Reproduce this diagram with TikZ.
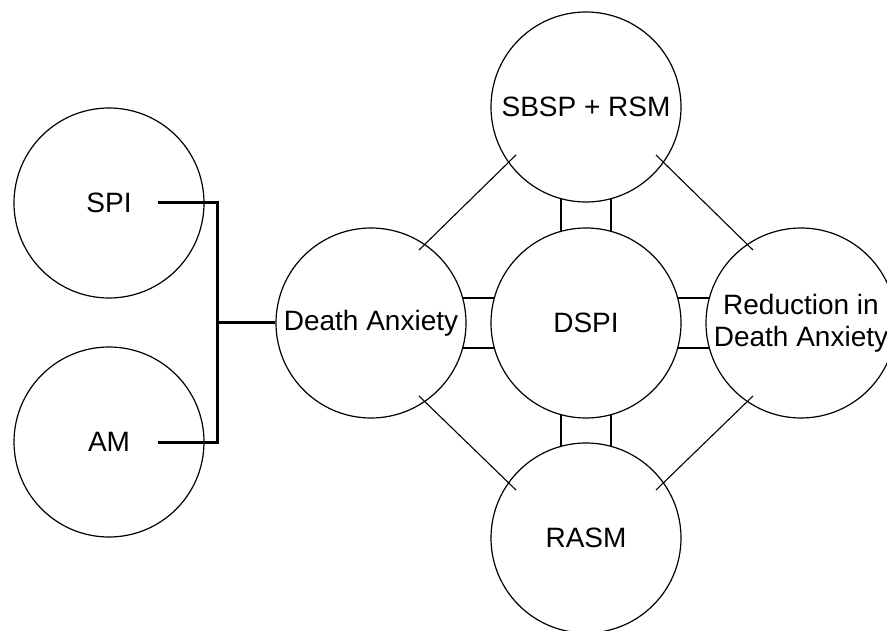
\documentclass[tikz,border=0pt]{standalone}
\usepackage{fontspec}
\setmainfont{Liberation Sans}
\begin{document}
\begin{tikzpicture}[x=1pt,y=-1pt,
  bubble/.style={circle, draw=black, line width=1.2pt, minimum size=190pt,
    inner sep=0pt, align=center, font=\fontsize{28}{32}\selectfont},
  link/.style={draw=black, line width=1.1pt},
  pair/.style={draw=black, line width=1.3pt},
  feed/.style={draw=black, line width=3pt}]
\useasboundingbox (0,0) rectangle (887,631);

% concept circles
\node[bubble] (SPI)  at (109,203) {SPI};
\node[bubble] (AM)   at (109,442) {AM};
\node[bubble] (DA)   at (371,323) {Death Anxiety};
\node[bubble] (DSPI) at (586,323) {DSPI};
\node[bubble] (SBSP) at (586,107) {SBSP + RSM};
\node[bubble] (RASM) at (586,538) {RASM};
\node[bubble] (RED)  at (801,323) {Reduction in\\Death Anxiety};

% bracket joining SPI and AM into Death Anxiety
\coordinate (sOut) at ([shift={(49,0)}]SPI.center);
\coordinate (aOut) at ([shift={(49,0)}]AM.center);
\coordinate (join) at (217,323);
\draw[feed] (sOut) -| (join) |- (aOut);
\draw[feed] (join) -- (DA.west);

% paired lines around DSPI (offset 25 from the axis, ending on the rims)
\foreach \o in {-25,25} {
  \draw[pair] ([shift={(\o,91.6)}]SBSP.center) -- ([shift={(\o,-91.6)}]DSPI.center);
  \draw[pair] ([shift={(\o,-91.6)}]RASM.center) -- ([shift={(\o,91.6)}]DSPI.center);
  \draw[pair] ([shift={(91.6,\o)}]DA.center) -- ([shift={(-91.6,\o)}]DSPI.center);
  \draw[pair] ([shift={(-91.6,\o)}]RED.center) -- ([shift={(91.6,\o)}]DSPI.center);
}

% diagonal links on the outer ring
\draw[link] ([shift={(48,-73)}]DA.center)   -- ([shift={(-70,48)}]SBSP.center);
\draw[link] ([shift={(70,48)}]SBSP.center)  -- ([shift={(-48,-73)}]RED.center);
\draw[link] ([shift={(48,73)}]DA.center)    -- ([shift={(-70,-48)}]RASM.center);
\draw[link] ([shift={(-48,73)}]RED.center)  -- ([shift={(70,-48)}]RASM.center);
\end{tikzpicture}
\end{document}
